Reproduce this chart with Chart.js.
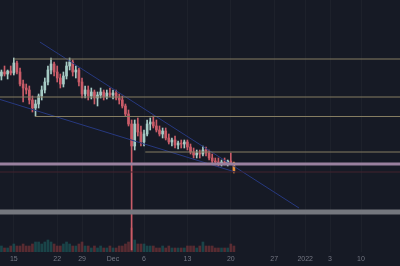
<!DOCTYPE html>
<html lang="en">
<head>
<meta charset="UTF-8">
<title>Chart</title>
<style>
  html, body { margin: 0; padding: 0; background: #161a25; }
  #box { width: 400px; height: 266px; }
</style>
</head>
<body>
<div id="box"><canvas id="chart" width="400" height="266"></canvas></div>
<script src="https://cdn.jsdelivr.net/npm/chart.js"></script>
<script>
    // 12h candles, x in days since Nov 1
    const firstDay = 12;
    const candleStep = 0.5;
    const opens  = [22.4,22.8,22.6,22.9,22.7,23.7,22.8,21.6,21.2,21.0,20.0,19.2,19.6,20.4,21.0,21.8,23.0,23.6,22.8,22.2,
                    21.6,22.4,23.4,23.8,22.8,23.0,21.8,20.6,21.0,20.4,20.8,20.2,20.5,20.8,20.3,20.7,20.5,20.7,20.2,20.0,
                    19.4,18.6,17.6,15.4,17.6,16.8,15.8,16.6,17.6,17.8,17.4,17.0,16.6,16.9,16.2,15.8,16.0,15.5,15.7,15.6,
                    15.8,15.3,14.8,14.5,14.7,14.6,15.0,14.7,14.2,13.9,13.8,13.7,13.8,13.7,13.9,13.7];
    const highs  = [23.0,23.4,23.0,23.4,24.2,23.9,23.2,22.0,21.6,21.4,20.4,20.0,20.6,21.4,22.2,23.4,24.2,23.8,23.4,22.6,
                    22.8,23.8,24.2,24.0,23.4,23.2,22.2,21.4,21.4,21.2,21.0,20.8,21.2,21.0,21.0,21.2,21.0,21.0,20.6,20.4,
                    19.6,19.0,18.0,18.0,18.2,17.4,17.0,18.0,18.2,18.4,18.0,17.4,17.2,17.2,16.6,16.2,16.4,15.9,16.0,16.0,
                    16.0,15.6,15.2,15.0,15.0,15.4,15.3,15.0,14.6,14.2,14.2,14.0,14.2,14.0,14.7,13.8];
    const lows   = [22.0,22.4,22.1,22.5,22.5,22.6,21.4,19.8,20.6,19.6,18.8,18.4,19.2,20.0,20.7,21.5,22.6,22.4,21.8,21.2,
                    21.3,22.1,23.0,22.4,22.2,21.4,20.2,20.2,20.0,20.1,19.6,19.4,20.2,20.0,20.1,20.3,20.1,20.0,19.6,19.2,
                    18.4,17.4,5.0,15.0,16.4,15.4,15.4,16.4,17.0,17.2,16.8,16.4,16.2,16.0,15.6,15.4,15.2,15.1,15.2,15.2,
                    15.0,14.6,14.2,14.2,14.2,14.4,14.4,14.0,13.6,13.5,13.4,13.4,13.5,13.4,13.6,12.7];
    const closes = [22.8,22.6,22.9,22.7,23.7,22.8,21.6,21.2,21.0,20.0,19.2,19.6,20.4,21.0,21.8,23.0,23.6,22.8,22.2,21.6,
                    22.4,23.4,23.8,22.8,23.0,21.8,20.6,21.0,20.4,20.8,20.2,20.5,20.8,20.3,20.7,20.5,20.7,20.2,20.0,19.4,
                    18.6,17.6,15.4,17.6,16.8,15.8,16.6,17.6,17.8,17.4,17.0,16.6,16.9,16.2,15.8,16.0,15.5,15.7,15.6,15.8,
                    15.3,14.8,14.5,14.7,14.6,15.0,14.7,14.2,13.9,13.8,13.7,13.8,13.7,13.9,13.7,12.9];
    const volumes = [3,2,2,3,4,3,3,4,3,3,4,5,5,4,5,6,5,4,3,3,
                     4,5,4,3,3,4,5,3,3,2,3,2,3,2,2,3,2,2,3,3,
                     4,5,12,6,4,4,4,3,3,3,2,2,3,2,3,2,2,2,2,2,
                     3,3,3,2,3,5,3,3,3,2,2,2,2,2,4,3];

    const tickDays   = [14, 21, 25, 30, 35, 42, 49, 56, 61, 65, 70];
    const tickLabels = ['15', '22', '29', 'Dec', '6', '13', '20', '27', '2022', '3', '10'];

    // drawn levels: [startDay, price]
    const resistanceLevels = [[14.0, 24.1], [11.0, 20.3], [17.4, 18.35], [35.2, 14.8]];
    const pinkLevel = 13.6;
    const redLevel = 12.8;
    const grayLevel = 8.8;
    // trend lines: [[day, price], [day, price]]
    const upperTrend = [[18.2, 25.8], [60.0, 9.2]];
    const lowerTrend = [[11.0, 20.2], [49.7, 12.8]];

    const UP = '#a6cbc5';
    const DOWN = '#c95c68';

    function candleDay(i) { return firstDay + i * candleStep; }
    function isUp(i) { return closes[i] >= opens[i]; }

    let wickData = [];
    let bodyData = [];
    let volData = [];
    for (let i = 0; i < opens.length; i++) {
        wickData.push({x: candleDay(i), y: [lows[i], highs[i]]});
        bodyData.push({x: candleDay(i), y: [opens[i], closes[i]]});
        volData.push({x: candleDay(i), y: volumes[i]});
    }
    const last = opens.length - 1;

    function levelLine(startDay, price, color, width) {
        return {
            type: 'line',
            data: [{x: startDay, y: price}, {x: 90, y: price}],
            borderColor: color,
            borderWidth: width,
            pointRadius: 0,
            order: 0
        };
    }
    function trendLine(pts, color) {
        return {
            type: 'line',
            data: pts.map(p => ({x: p[0], y: p[1]})),
            borderColor: color,
            borderWidth: 1,
            pointRadius: 0,
            order: 0
        };
    }

    let datasets = [];
    resistanceLevels.forEach(l => datasets.push(levelLine(l[0], l[1], '#857d62', 1)));
    datasets.push(levelLine(0, redLevel, '#43232f', 1));
    datasets.push(levelLine(0, pinkLevel, '#9a819f', 3));
    datasets.push(levelLine(0, grayLevel, '#74777e', 5));
    datasets.push(levelLine(0, grayLevel, '#9c9ea3', 2));
    datasets.push(trendLine(upperTrend, '#27397f'));
    datasets.push(trendLine(lowerTrend, '#27397f'));

    datasets.push({
        data: bodyData,
        backgroundColor: ctx => ctx.dataIndex === last ? '#e8913a' : (isUp(ctx.dataIndex) ? UP : DOWN),
        barThickness: 2,
        minBarLength: 1,
        grouped: false,
        order: 1
    });
    datasets.push({
        data: wickData,
        backgroundColor: ctx => ctx.dataIndex === last ? '#e8913a' : (isUp(ctx.dataIndex) ? UP : DOWN),
        barThickness: 1,
        grouped: false,
        order: 2
    });
    datasets.push({
        data: volData,
        yAxisID: 'yv',
        backgroundColor: ctx => isUp(ctx.dataIndex) ? 'rgba(38,166,154,0.3)' : 'rgba(239,83,80,0.3)',
        barThickness: 2,
        grouped: false,
        order: 3
    });

    const chart = new Chart(document.getElementById('chart'), {
        type: 'bar',
        data: { datasets: datasets },
        options: {
            responsive: false,
            animation: false,
            devicePixelRatio: 1,
            layout: { padding: 0 },
            plugins: { legend: { display: false }, tooltip: { enabled: false } },
            scales: {
                x: {
                    type: 'linear',
                    min: 11.77,
                    max: 76.29,
                    offset: false,
                    grid: { color: 'rgba(255,255,255,0.03)', offset: false, drawTicks: false },
                    border: { display: false },
                    afterBuildTicks: scale => { scale.ticks = tickDays.map(d => ({value: d})); },
                    afterFit: scale => { scale.height = 14; },
                    ticks: {
                        autoSkip: false,
                        maxRotation: 0,
                        padding: 3,
                        color: '#737682',
                        font: { family: 'Liberation Sans', size: 7 },
                        callback: (v, i) => tickLabels[i]
                    }
                },
                y: { display: false, min: 4.8, max: 30 },
                yv: { display: false, min: 0, max: 126 }
            }
        }
    });
</script>
</body>
</html>
